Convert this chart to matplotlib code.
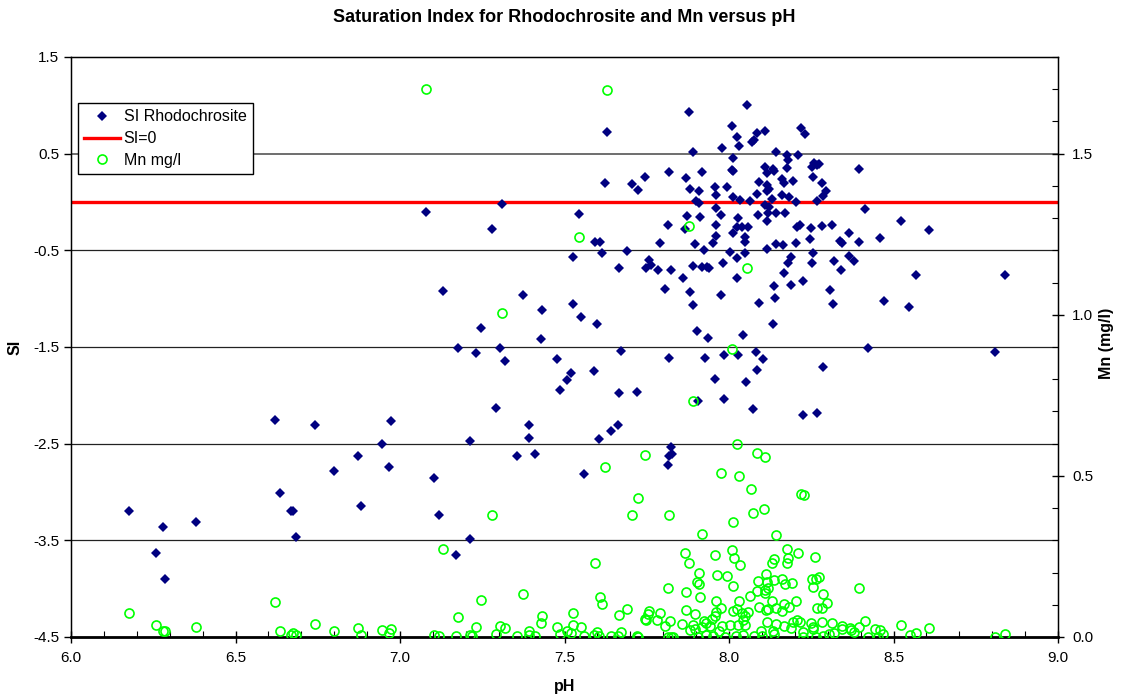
import matplotlib.pyplot as plt
from matplotlib.lines import Line2D
from matplotlib.ticker import MultipleLocator, FormatStrFormatter

plt.rcParams['font.family'] = ['Liberation Sans', 'DejaVu Sans']

# SI Rhodochrosite (pH, SI)
si_ph = [
    6.177, 6.281, 6.258, 6.286, 6.381, 6.621, 6.742, 6.634, 6.668, 6.675, 6.684, 6.799, 6.871,
    6.945, 6.967, 6.973, 6.882,
    7.628, 7.624, 7.705, 7.722, 7.080, 7.310, 7.543, 7.281, 7.593, 7.608, 7.526, 7.615, 7.689,
    7.665, 7.132, 7.375, 7.527, 7.432, 7.551, 7.246, 7.599, 7.430, 7.176, 7.231, 7.303, 7.672,
    7.320, 7.476, 7.521, 7.509, 7.590, 7.485, 7.665, 7.721, 7.293, 7.391, 7.391, 7.213, 7.641,
    7.662, 7.604, 7.357, 7.411, 7.560, 7.102, 7.120, 7.213, 7.170,
    8.055, 7.878, 8.010, 8.025, 8.085, 8.070, 8.077, 8.030, 7.892, 7.978, 8.012, 7.745, 7.817,
    7.868, 7.919, 7.880, 7.909, 7.957, 7.962, 7.995, 8.010, 8.013, 8.092, 8.012, 8.033, 8.064,
    8.084, 7.899, 7.909, 7.960, 7.977, 8.088, 7.871, 7.816, 7.913, 7.962, 7.867, 8.027, 8.025,
    8.041, 8.059, 8.012, 7.962, 8.048, 8.049, 7.790, 7.897, 7.952, 7.924, 8.004, 8.048, 8.025,
    7.756, 7.748, 7.763, 7.783, 7.823, 7.892, 7.919, 7.932, 7.939, 7.983, 8.025, 7.859, 7.804,
    7.881, 7.892, 7.976, 8.090, 7.903, 7.936, 8.042, 7.984, 8.027, 8.082, 7.819, 7.926,
    8.108, 8.218, 8.230, 8.143, 8.175, 8.180, 8.210, 8.108, 8.115, 8.134, 8.138, 8.177, 8.251,
    8.259, 8.273, 8.266, 8.394, 8.116, 8.122, 8.115, 8.160, 8.168, 8.194, 8.254, 8.284, 8.296,
    8.131, 8.160, 8.181, 8.286, 8.204, 8.266, 8.110, 8.123, 8.120, 8.142, 8.170, 8.115, 8.413,
    8.207, 8.215, 8.249, 8.283, 8.313, 8.365, 8.247, 8.338, 8.343, 8.394, 8.203, 8.142, 8.165,
    8.116, 8.256, 8.188, 8.180, 8.252, 8.319, 8.364, 8.381, 8.339, 8.166, 8.224, 8.188, 8.138,
    8.307, 8.140, 8.316, 8.135, 8.421, 8.102,
    8.086, 7.957, 8.053, 7.906, 7.986, 8.073, 7.824, 7.828, 7.818, 7.815,
    8.285, 8.224, 8.266,
    8.458, 8.524, 8.609, 8.567, 8.470, 8.548, 8.807, 8.839,
]
si_val = [
    -3.200, -3.365, -3.634, -3.896, -3.314, -2.259, -2.310, -3.013, -3.200, -3.200, -3.469, -2.783, -2.631,
    -2.500, -2.741, -2.265, -3.141,
    0.727, 0.197, 0.183, 0.128, -0.103, -0.017, -0.124, -0.283, -0.414, -0.414, -0.572, -0.527, -0.503,
    -0.680, -0.924, -0.966, -1.055, -1.117, -1.193, -1.300, -1.262, -1.417, -1.510, -1.562, -1.507, -1.545,
    -1.645, -1.627, -1.766, -1.838, -1.745, -1.948, -1.972, -1.965, -2.131, -2.304, -2.441, -2.469, -2.365,
    -2.304, -2.455, -2.624, -2.610, -2.817, -2.852, -3.235, -3.486, -3.655,
    1.007, 0.928, 0.786, 0.676, 0.710, 0.624, 0.641, 0.583, 0.517, 0.562, 0.458, 0.262, 0.307,
    0.252, 0.310, 0.138, 0.117, 0.152, 0.072, 0.159, 0.328, 0.318, 0.210, 0.055, 0.021, 0.007,
    0.083, 0.010, -0.013, -0.065, -0.131, -0.134, -0.145, -0.241, -0.152, -0.241, -0.283, -0.162, -0.255,
    -0.262, -0.262, -0.324, -0.352, -0.366, -0.410, -0.428, -0.431, -0.428, -0.500, -0.517, -0.524, -0.576,
    -0.600, -0.686, -0.649, -0.700, -0.707, -0.659, -0.670, -0.676, -0.683, -0.628, -0.786, -0.786, -0.903,
    -0.934, -1.069, -0.959, -1.041, -1.331, -1.403, -1.372, -1.586, -1.583, -1.555, -1.614, -1.614,
    0.738, 0.762, 0.700, 0.520, 0.490, 0.435, 0.490, 0.365, 0.303, 0.341, 0.321, 0.348, 0.365,
    0.407, 0.393, 0.383, 0.345, 0.176, 0.131, 0.111, 0.235, 0.193, 0.220, 0.255, 0.193, 0.117,
    0.028, 0.072, 0.048, 0.059, 0.000, 0.014, -0.030, -0.049, -0.110, -0.117, -0.110, -0.197, -0.072,
    -0.255, -0.234, -0.265, -0.248, -0.238, -0.317, -0.386, -0.400, -0.421, -0.417, -0.428, -0.434, -0.448,
    -0.483, -0.524, -0.566, -0.635, -0.631, -0.614, -0.559, -0.614, -0.703, -0.731, -0.821, -0.855, -0.866,
    -0.914, -0.993, -1.059, -1.265, -1.507, -1.627,
    -1.738, -1.831, -1.859, -2.058, -2.041, -2.145, -2.538, -2.607, -2.628, -2.721,
    -1.707, -2.207, -2.183,
    -0.373, -0.198, -0.291, -0.751, -1.020, -1.090, -1.547, -0.751,
]

# Mn mg/l (pH, Mn)
mn_ph = [
    6.177, 6.258, 6.281, 6.286, 6.381, 6.621, 6.634, 6.668, 6.675, 6.684, 6.742, 6.799, 6.871,
    6.882, 6.945, 6.967, 6.973,
    7.080, 7.628, 7.543, 7.309,
    7.624, 7.281, 7.724, 7.704, 7.132, 7.593, 7.375, 7.246, 7.607, 7.615, 7.689, 7.665, 7.176,
    7.432, 7.430, 7.526, 7.231, 7.303, 7.320, 7.527, 7.551, 7.476, 7.391, 7.102, 7.120, 7.170,
    7.213, 7.218, 7.293, 7.357, 7.391, 7.411, 7.485, 7.509, 7.521, 7.560, 7.590, 7.599, 7.604,
    7.640, 7.662, 7.672, 7.721,
    7.878, 8.055, 8.009,
    7.890, 8.024, 7.744, 8.086, 7.977, 8.029, 8.068, 7.817, 8.011, 8.074, 7.918,
    8.108, 8.218, 8.229, 8.107, 8.142,
    7.867, 7.879, 7.957, 8.009, 8.014, 8.032, 7.908, 7.963, 7.994, 7.902, 7.910, 8.013, 7.815,
    7.869, 7.912, 8.087, 8.085, 8.063, 7.960, 8.029, 8.090, 7.758, 7.753, 7.745, 7.748, 7.790,
    7.869, 7.897, 7.977, 7.962, 7.956, 7.949, 8.012, 8.024, 8.040, 8.059, 8.049, 7.781, 7.822,
    7.858, 7.806, 7.892, 7.924, 7.931, 7.917, 7.941, 7.897, 7.882, 7.980, 7.971, 8.003, 8.026,
    8.050, 8.044, 7.929, 7.952, 7.987, 8.020, 8.043, 8.076, 7.723, 7.815, 7.824, 7.831, 7.905,
    8.175, 8.209, 8.261, 8.137, 8.132, 8.180, 8.176, 8.113, 8.116, 8.137, 8.160, 8.169, 8.193,
    8.253, 8.264, 8.275, 8.254, 8.108, 8.120, 8.110, 8.394, 8.285, 8.132, 8.205, 8.297, 8.168,
    8.181, 8.266, 8.284, 8.113, 8.120, 8.142, 8.160, 8.116, 8.142, 8.166, 8.195, 8.208, 8.216,
    8.249, 8.254, 8.283, 8.313, 8.343, 8.369, 8.394, 8.412, 8.445, 8.096, 8.100, 8.135, 8.138,
    8.187, 8.224, 8.224, 8.254, 8.264, 8.286, 8.305, 8.318, 8.343, 8.371, 8.381, 8.421, 8.454,
    8.523, 8.609, 8.550, 8.567, 8.468, 8.460, 8.807, 8.839,
]
mn_val = [
    0.074, 0.037, 0.019, 0.019, 0.031, 0.108, 0.020, 0.006, 0.013, 0.006, 0.040, 0.020, 0.028,
    0.006, 0.021, 0.011, 0.024,
    1.700, 1.698, 1.242, 1.005,
    0.528, 0.380, 0.431, 0.378, 0.273, 0.231, 0.134, 0.114, 0.123, 0.101, 0.086, 0.068, 0.061,
    0.066, 0.042, 0.074, 0.031, 0.033, 0.029, 0.037, 0.031, 0.030, 0.019, 0.005, 0.004, 0.004,
    0.005, 0.002, 0.008, 0.004, 0.005, 0.004, 0.008, 0.019, 0.011, 0.004, 0.006, 0.016, 0.004,
    0.004, 0.004, 0.016, 0.004,
    1.274, 1.144, 0.894,
    0.733, 0.599, 0.565, 0.570, 0.508, 0.499, 0.459, 0.380, 0.358, 0.385, 0.321,
    0.560, 0.445, 0.440, 0.396, 0.318,
    0.262, 0.231, 0.253, 0.271, 0.246, 0.223, 0.200, 0.193, 0.190, 0.172, 0.163, 0.158, 0.152,
    0.139, 0.124, 0.174, 0.144, 0.127, 0.113, 0.111, 0.094, 0.081, 0.071, 0.057, 0.053, 0.075,
    0.084, 0.071, 0.090, 0.079, 0.066, 0.057, 0.081, 0.088, 0.073, 0.079, 0.065, 0.053, 0.049,
    0.040, 0.034, 0.038, 0.050, 0.043, 0.030, 0.034, 0.024, 0.022, 0.034, 0.020, 0.038, 0.038,
    0.038, 0.053, 0.005, 0.002, 0.001, 0.004, 0.006, 0.002, 0.001, 0.000, 0.000, 0.000, 0.000,
    0.272, 0.262, 0.247, 0.241, 0.231, 0.244, 0.231, 0.195, 0.172, 0.177, 0.180, 0.164, 0.168,
    0.180, 0.179, 0.187, 0.154, 0.146, 0.151, 0.136, 0.153, 0.133, 0.113, 0.112, 0.105, 0.102,
    0.094, 0.089, 0.089, 0.084, 0.086, 0.091, 0.081, 0.047, 0.040, 0.035, 0.047, 0.053, 0.046,
    0.044, 0.032, 0.047, 0.043, 0.034, 0.029, 0.030, 0.050, 0.026, 0.020, 0.003, 0.020, 0.010,
    0.027, 0.016, 0.000, 0.024, 0.001, 0.003, 0.008, 0.012, 0.026, 0.022, 0.016, 0.001, 0.001,
    0.037, 0.028, 0.006, 0.012, 0.008, 0.023, 0.000, 0.009,
]

navy = '#000080'
green = '#00FF00'

fig = plt.figure(figsize=(11.22, 6.99), dpi=100)
ax = fig.add_axes([71 / 1122, 62 / 699, (1058 - 71) / 1122, (637 - 57) / 699])

ax.set_xlim(6.0, 9.0)
ax.set_ylim(-4.5, 1.5)
ax.set_yticks([-4.5, -3.5, -2.5, -1.5, -0.5, 0.5, 1.5])
ax.set_xticks([6.0, 6.5, 7.0, 7.5, 8.0, 8.5, 9.0])
ax.xaxis.set_minor_locator(MultipleLocator(0.1))
ax.xaxis.set_major_formatter(FormatStrFormatter('%.1f'))
ax.yaxis.set_major_formatter(FormatStrFormatter('%.1f'))
ax.tick_params(axis='x', which='major', direction='inout', length=8, width=1, labelsize=11, pad=6)
ax.tick_params(axis='x', which='minor', direction='in', length=4, width=0.8)
ax.tick_params(axis='y', which='major', direction='out', length=5, width=1, labelsize=11)
for y in [-3.5, -2.5, -1.5, -0.5]:
    ax.axhline(y, color='#222222', lw=0.9, zorder=0)
ax.axhline(0.5, color='#555555', lw=1.2, zorder=0)
for s in ax.spines.values():
    s.set_linewidth(1.0)
ax.spines['bottom'].set_linewidth(2.0)

ax.axhline(0, color='#FF0000', lw=2.4, zorder=1)
ax.plot(si_ph, si_val, 'D', color=navy, markersize=5, markeredgewidth=0, zorder=3)

ax2 = ax.twinx()
ax2.set_ylim(0, 1.8)
ax2.set_yticks([0.0, 0.5, 1.0, 1.5])
ax2.yaxis.set_minor_locator(MultipleLocator(0.1))
ax2.yaxis.set_major_formatter(FormatStrFormatter('%.1f'))
ax2.tick_params(axis='y', which='major', direction='inout', length=8, width=1, labelsize=11, pad=6)
ax2.tick_params(axis='y', which='minor', direction='in', length=4, width=0.8)
ax2.plot(mn_ph, mn_val, 'o', markerfacecolor='none', markeredgecolor=green,
         markersize=6.5, markeredgewidth=1.2, zorder=4)

fig.text(0.503, 1 - 18 / 699, 'Saturation Index for Rhodochrosite and Mn versus pH',
         ha='center', va='center', fontsize=13, fontweight='bold')
fig.text(0.503, 1 - 686 / 699, 'pH', ha='center', va='center', fontsize=11.5, fontweight='bold')
fig.text(15 / 1122, 1 - 347 / 699, 'SI', ha='center', va='center', rotation=90,
         fontsize=11.5, fontweight='bold')
fig.text(1107 / 1122, 1 - 343 / 699, 'Mn (mg/l)', ha='center', va='center', rotation=90,
         fontsize=11.5, fontweight='bold')

handles = [
    Line2D([], [], marker='D', color=navy, linestyle='none', markersize=5, markeredgewidth=0),
    Line2D([], [], color='#FF0000', lw=2.4),
    Line2D([], [], marker='o', linestyle='none', markerfacecolor='none',
           markeredgecolor=green, markersize=6.5, markeredgewidth=1.2),
]
leg = ax2.legend(handles, ['SI Rhodochrosite', 'SI=0', 'Mn mg/l'], loc='upper left',
                 bbox_to_anchor=(78 / 1122, 1 - 103 / 699), bbox_transform=fig.transFigure,
                 fontsize=11.5, frameon=True, fancybox=False, framealpha=1,
                 edgecolor='black', handlelength=2.2, handletextpad=0.25,
                 borderpad=0.4, labelspacing=0.42, borderaxespad=0)
leg.get_frame().set_linewidth(1.0)

fig.savefig('out.png', dpi=100)
